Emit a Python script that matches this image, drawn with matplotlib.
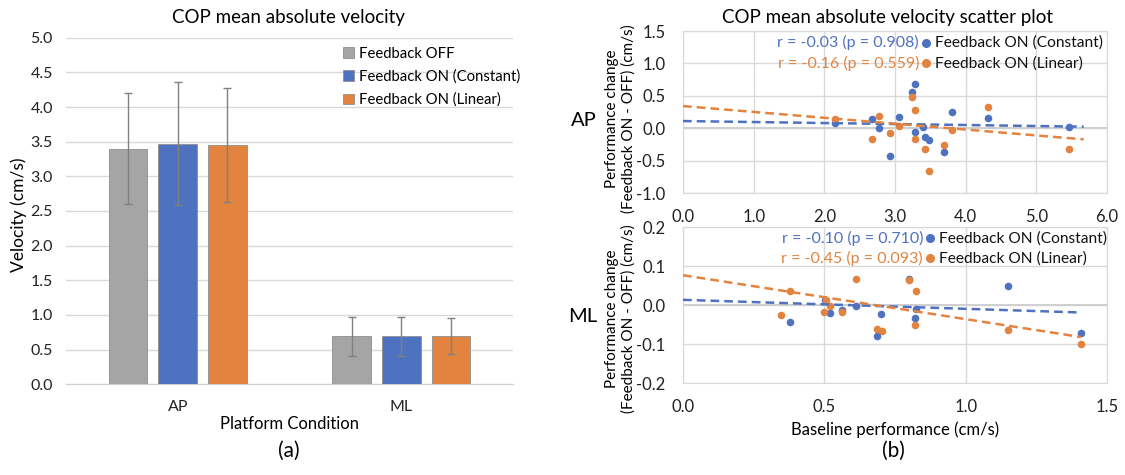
import numpy as np
import matplotlib
matplotlib.use("Agg")
import matplotlib.pyplot as plt
from matplotlib.ticker import FormatStrFormatter, MultipleLocator

plt.rcParams['font.family'] = ['Lato', 'DejaVu Sans']

# ---------------- data ----------------
conditions = ["AP", "ML"]
bar_series = ["Feedback OFF", "Feedback ON (Constant)", "Feedback ON (Linear)"]
mean_off = [3.40, 0.69]
mean_const = [3.47, 0.69]
mean_linear = [3.45, 0.69]
sd_off = [0.80, 0.285]
sd_const = [0.89, 0.285]
sd_linear = [0.82, 0.26]

# AP scatter (baseline, change)
ap_const_x = [2.15, 2.67, 2.78, 2.93, 3.06, 3.24, 3.29, 3.28, 3.40, 3.43, 3.48, 3.69, 3.80, 4.31, 5.46]
ap_const_y = [0.09, 0.15, 0.01, -0.42, 0.17, 0.56, 0.69, -0.05, 0.02, -0.13, -0.18, -0.36, 0.25, 0.16, 0.02]
ap_lin_x = [2.15, 2.67, 2.78, 2.93, 3.06, 3.24, 3.29, 3.28, 3.43, 3.48, 3.69, 3.80, 4.31, 5.46]
ap_lin_y = [0.15, -0.16, 0.19, -0.07, 0.03, 0.49, 0.28, -0.16, -0.32, -0.65, -0.26, -0.03, 0.33, -0.31]

# ML scatter
ml_const_x = [0.380, 0.502, 0.519, 0.564, 0.611, 0.685, 0.702, 0.800, 0.824, 0.820, 1.151, 1.408]
ml_const_y = [-0.044, 0.012, -0.020, -0.012, -0.002, -0.080, -0.023, 0.067, -0.010, -0.033, 0.050, -0.070]
ml_lin_x = [0.347, 0.380, 0.506, 0.499, 0.519, 0.564, 0.611, 0.685, 0.703, 0.800, 0.820, 0.826, 1.151, 1.408]
ml_lin_y = [-0.024, 0.036, 0.014, -0.018, -0.002, -0.017, 0.066, -0.062, -0.067, 0.065, -0.051, 0.036, -0.064, -0.100]

ap_stats = ["r = -0.03 (p = 0.908)", "r = -0.16 (p = 0.559)"]
ml_stats = ["r = -0.10 (p = 0.710)", "r = -0.45 (p = 0.093)"]
scatter_series = ["Feedback ON (Constant)", "Feedback ON (Linear)"]

# linear trend lines: (intercept, slope)
ap_const_trend = [0.113, -0.0153]
ap_lin_trend = [0.344, -0.0905]
ml_const_trend = [0.0136, -0.0230]
ml_lin_trend = [0.0766, -0.1124]
ap_trend_range = [0.0, 5.67]
ml_trend_range = [0.0, 1.408]

# ---------------- style ----------------
C_GRAY = "#A5A5A5"
C_BLUE = "#4E72BF"
C_ORANGE = "#E2833F"
GRID = "#D9D9D9"
W, H = 1125, 475

fig = plt.figure(figsize=(W / 100, H / 100), dpi=100)


def fx(px):
    return px / W


def fy(py):
    return 1 - py / H


# ---------------- left bar chart ----------------
axL = fig.add_axes([fx(66), fy(384.3), fx(513 - 66), (384.3 - 37.7) / H])
xpos = np.arange(len(conditions))
bw = 0.174
off = 0.2225
for i, (m, s, c) in enumerate([(mean_off, sd_off, C_GRAY), (mean_const, sd_const, C_BLUE),
                                (mean_linear, sd_linear, C_ORANGE)]):
    axL.bar(xpos + (i - 1) * off, m, width=bw, color=c, edgecolor="#8f8f8f", linewidth=0.6,
            label=bar_series[i], zorder=3)
    axL.errorbar(xpos + (i - 1) * off, m, yerr=s, fmt="none", ecolor="#808080",
                 elinewidth=1.0, capsize=3, capthick=1.0, zorder=4)
axL.set_xlim(-0.5, 1.5)
axL.set_ylim(0, 5.0)
axL.yaxis.set_major_locator(MultipleLocator(0.5))
axL.yaxis.set_major_formatter(FormatStrFormatter("%.1f"))
axL.set_xticks(xpos)
axL.set_xticklabels(conditions)
axL.grid(axis="y", color=GRID, linewidth=1.0, zorder=0)
axL.set_axisbelow(True)
for sp in ["left", "right", "top"]:
    axL.spines[sp].set_visible(False)
axL.spines["bottom"].set_color("#D0D0D0")
axL.tick_params(axis="both", length=0, labelsize=11.5, colors="#222222")
axL.tick_params(axis="y", pad=9.5)
axL.tick_params(axis="x", pad=11.5)
axL.legend(loc="upper left", bbox_to_anchor=(0.6, 1.0), frameon=False, fontsize=10.7,
           handlelength=0.75, handleheight=0.75, handletextpad=0.3, labelspacing=0.6,
           borderaxespad=0.2)

fig.text(fx(288), fy(17), "COP mean absolute velocity", ha="center", va="center", fontsize=13.5)
fig.text(fx(19), fy(215), "Velocity (cm/s)", ha="center", va="center", rotation=90, fontsize=12.5)
fig.text(fx(289), fy(424), "Platform Condition", ha="center", va="center", fontsize=12)
fig.text(fx(289), fy(451), "(a)", ha="center", va="center", fontsize=15)


# ---------------- right scatter plots ----------------
def scatter_panel(rect, cx, cy, lx, ly, trends, trange, xlim, xstep, ylim, ystep):
    ax = fig.add_axes(rect)
    ax.scatter(cx, cy, s=30, color=C_BLUE, zorder=3, linewidths=0)
    ax.scatter(lx, ly, s=30, color=C_ORANGE, zorder=4, linewidths=0)
    xs = np.array(trange)
    for (b, k), c in zip(trends, [C_BLUE, C_ORANGE]):
        ax.plot(xs, b + k * xs, color=c, linestyle=(0, (3.5, 2.0)), linewidth=1.8, zorder=5)
    ax.set_xlim(*xlim)
    ax.set_ylim(*ylim)
    ax.xaxis.set_major_locator(MultipleLocator(xstep))
    ax.yaxis.set_major_locator(MultipleLocator(ystep))
    ax.xaxis.set_major_formatter(FormatStrFormatter("%.1f"))
    ax.yaxis.set_major_formatter(FormatStrFormatter("%.1f"))
    ax.grid(True, color=GRID, linewidth=1.0, zorder=0)
    ax.set_axisbelow(True)
    ax.axhline(0, color="#CFCFCF", linewidth=1.4, zorder=1)
    for sp in ax.spines.values():
        sp.set_color(GRID)
    ax.tick_params(axis="both", length=0, labelsize=12, colors="#222222")
    ax.tick_params(axis="y", pad=12.5)
    ax.tick_params(axis="x", pad=11.5)
    return ax


axA = scatter_panel([fx(683), fy(193.3), fx(1107 - 683), (193.3 - 31) / H],
                    ap_const_x, ap_const_y, ap_lin_x, ap_lin_y,
                    [ap_const_trend, ap_lin_trend], ap_trend_range,
                    (0, 6), 1.0, (-1.0, 1.5), 0.5)
axM = scatter_panel([fx(683), fy(383.3), fx(1107 - 683), (383.3 - 227) / H],
                    ml_const_x, ml_const_y, ml_lin_x, ml_lin_y,
                    [ml_const_trend, ml_lin_trend], ml_trend_range,
                    (0, 1.5), 0.5, (-0.2, 0.2), 0.1)


def stat_legend(rows_y, stats, marker_x, text_x):
    for yy, st, c, lab in zip(rows_y, stats, [C_BLUE, C_ORANGE], scatter_series):
        fig.text(fx(marker_x - 7), fy(yy), st, ha="right", va="center", color=c, fontsize=11.5)
        fig.lines.append(plt.Line2D([fx(marker_x)], [fy(yy)], marker="o", markersize=5.5,
                                    color=c, linestyle="none", transform=fig.transFigure))
        fig.text(fx(text_x), fy(yy), lab, ha="left", va="center", color="#111111", fontsize=11.2)


stat_legend([42.7, 63.3], ap_stats, 926, 935)
stat_legend([238.3, 258.3], ml_stats, 930, 939)

ylab = "Performance change\n(Feedback ON - OFF) (cm/s)"
fig.text(fx(620.5), fy(119), ylab, ha="center", va="center", rotation=90, fontsize=11,
         linespacing=1.15)
fig.text(fx(620.5), fy(319), ylab, ha="center", va="center", rotation=90, fontsize=11,
         linespacing=1.15)
fig.text(fx(584), fy(120), "AP", ha="center", va="center", fontsize=14.5)
fig.text(fx(583), fy(316), "ML", ha="center", va="center", fontsize=14.5)
fig.text(fx(888), fy(17), "COP mean absolute velocity scatter plot", ha="center", va="center",
         fontsize=13.5)
fig.text(fx(895), fy(430), "Baseline performance (cm/s)", ha="center", va="center", fontsize=12)
fig.text(fx(893), fy(451), "(b)", ha="center", va="center", fontsize=15)

fig.savefig("out.png", dpi=100)
